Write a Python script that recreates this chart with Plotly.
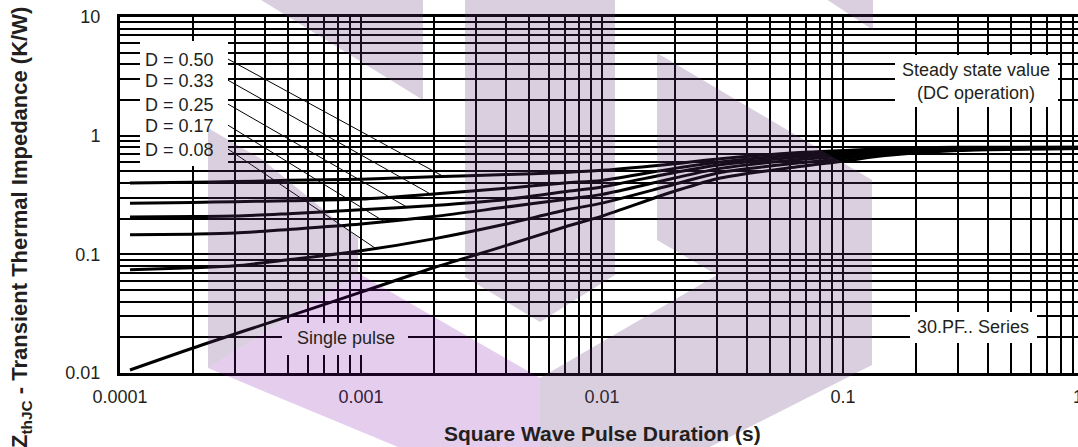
import numpy as np
import plotly.graph_objects as go

# ---------------- data ----------------
T_DUTY = [1.1e-4, 2e-4, 3e-4, 5e-4, 1e-3, 2e-3, 4e-3, 7e-3, 1e-2, 2e-2, 3.1e-2, 6.6e-2, 0.1, 0.15, 0.3, 1.0]
Z_D050 = [0.40, 0.405, 0.41, 0.42, 0.43, 0.45, 0.47, 0.49, 0.51, 0.58, 0.64, 0.72, 0.75, 0.78, 0.80, 0.80]
Z_D033 = [0.27, 0.274, 0.278, 0.283, 0.292, 0.322, 0.36, 0.40, 0.42, 0.53, 0.60, 0.69, 0.72, 0.77, 0.79, 0.80]
Z_D025 = [0.206, 0.208, 0.21, 0.22, 0.237, 0.258, 0.29, 0.337, 0.37, 0.49, 0.57, 0.66, 0.70, 0.75, 0.78, 0.79]
Z_D017 = [0.146, 0.148, 0.151, 0.162, 0.18, 0.208, 0.25, 0.29, 0.32, 0.44, 0.53, 0.63, 0.67, 0.73, 0.77, 0.79]
Z_D008 = [0.074, 0.077, 0.08, 0.09, 0.107, 0.135, 0.18, 0.235, 0.27, 0.39, 0.49, 0.59, 0.64, 0.71, 0.76, 0.78]
T_SINGLE = [1.1e-4, 2.2e-4, 5e-4, 1e-3, 2e-3, 3.5e-3, 7e-3, 1e-2, 2e-2, 3.1e-2, 6.6e-2, 0.1, 0.15, 0.3, 1.0]
Z_SINGLE = [0.0106, 0.0173, 0.030, 0.048, 0.077, 0.109, 0.17, 0.21, 0.34, 0.44, 0.55, 0.61, 0.68, 0.75, 0.78]

DUTY_LABELS = ["D = 0.50", "D = 0.33", "D = 0.25", "D = 0.17", "D = 0.08"]
DUTY_SERIES = [Z_D050, Z_D033, Z_D025, Z_D017, Z_D008]
LEADER_START_T = 2.8e-4
LEADER_START_Z = [4.43, 2.94, 1.85, 1.23, 0.773]
LEADER_END_T = [2.2e-3, 1.95e-3, 1.55e-3, 1.25e-3, 1.15e-3]

X_TICKS = [1e-4, 1e-3, 1e-2, 1e-1]
X_TICKTEXT = ["0.0001", "0.001", "0.01", "0.1"]
Y_TICKS = [0.01, 0.1, 1, 10]
Y_TICKTEXT = ["0.01", "0.1", "1", "10"]
MINOR_MULT = [2, 3, 4, 5, 6, 7, 8, 9]

X_TITLE = "<b>Square Wave Pulse Duration (s)</b>"
Y_TITLE = "<b>Z<sub>thJC</sub> - Transient Thermal Impedance (K/W)</b>"

# ---------------- layout geometry ----------------
W, H = 1078, 447
ML, MR, MT, MB = 120, 0, 17, 74
PW, PH = W - ML - MR, H - MT - MB
DEC_X = 241.0
X_RANGE = [-4, -4 + PW / DEC_X]
Y_RANGE = [-2, 1]
FONT = "Liberation Sans, Arial, Helvetica, sans-serif"
TXT = "#231f20"


def xp(px):
    return (px - ML) / PW


def yp(py):
    return (H - MB - py) / PH


def poly(points):
    return "M " + " L ".join(f"{xp(a):.5f},{yp(b):.5f}" for a, b in points) + " Z"


fig = go.Figure()

for z in DUTY_SERIES:
    fig.add_trace(go.Scatter(x=T_DUTY, y=z, mode="lines",
                             line=dict(color="black", width=3, shape="spline", smoothing=0.8),
                             showlegend=False, hoverinfo="skip"))
fig.add_trace(go.Scatter(x=T_SINGLE, y=Z_SINGLE, mode="lines",
                         line=dict(color="black", width=3, shape="spline", smoothing=0.8),
                         showlegend=False, hoverinfo="skip"))

for z0, t1, zs in zip(LEADER_START_Z, LEADER_END_T, DUTY_SERIES):
    z1 = 10 ** np.interp(np.log10(t1), np.log10(T_DUTY), np.log10(zs))
    fig.add_trace(go.Scatter(x=[LEADER_START_T, t1], y=[z0, z1], mode="lines",
                             line=dict(color="black", width=1),
                             showlegend=False, hoverinfo="skip"))

shapes = []
# white boxes behind labels (hide grid lines), drawn before the watermark
for (x0, y0, x1, y1) in [(140, 41, 228, 166), (895, 55, 1058, 107),
                         (282, 323, 408, 355), (910, 312, 1037, 343)]:
    shapes.append(dict(type="rect", xref="paper", yref="paper",
                       x0=xp(x0), x1=xp(x1), y0=yp(y1), y1=yp(y0),
                       fillcolor="white", line=dict(width=0), layer="above"))

GRAY = dict(fillcolor="rgb(95,55,120)", opacity=0.24)
PURP = dict(fillcolor="rgb(125,10,165)", opacity=0.2)
wm = [
    ([(253, -5), (423, -5), (423, 100)], GRAY),
    ([(820, -5), (873, -5), (873, 30)], GRAY),
    ([(465, -5), (615, -5), (615, 275), (540, 322), (465, 277)], GRAY),
    ([(208, 128), (263, 160), (358, 238), (358, 273), (208, 368)], GRAY),
    ([(208, 368), (358, 273), (540, 378), (540, 452), (410, 452)], PURP),
    ([(657, 53), (872, 180), (872, 365), (700, 452), (540, 452), (540, 378),
      (717, 275), (657, 240)], GRAY),
]
for pts, st in wm:
    shapes.append(dict(type="path", xref="paper", yref="paper", path=poly(pts),
                       fillcolor=st["fillcolor"], opacity=st["opacity"],
                       line=dict(width=0), layer="above"))

ann = []
for lab, z0 in zip(DUTY_LABELS, LEADER_START_Z):
    ann.append(dict(text=lab, xref="paper", x=xp(143), yref="y", y=np.log10(z0),
                    xanchor="left", yanchor="middle", showarrow=False, yshift=-1,
                    font=dict(size=18, color=TXT, family=FONT)))
ann.append(dict(text="Steady state value<br>(DC operation)", xref="paper", yref="paper",
                x=xp(976), y=yp(81), xanchor="center", yanchor="middle", showarrow=False,
                align="center", font=dict(size=18, color=TXT, family=FONT)))
ann.append(dict(text="Single pulse", xref="paper", yref="paper", x=xp(346), y=yp(338),
                xanchor="center", yanchor="middle", showarrow=False,
                font=dict(size=18, color=TXT, family=FONT)))
ann.append(dict(text="30.PF.. Series", xref="paper", yref="paper", x=xp(973), y=yp(327),
                xanchor="center", yanchor="middle", showarrow=False,
                font=dict(size=18, color=TXT, family=FONT)))
ann.append(dict(text="1", xref="paper", yref="paper", x=xp(1085), y=yp(397),
                xanchor="right", yanchor="middle", showarrow=False,
                font=dict(size=18, color=TXT, family=FONT)))
ann.append(dict(text=X_TITLE, xref="paper", yref="paper", x=xp(602), y=yp(433),
                xanchor="center", yanchor="middle", showarrow=False,
                font=dict(size=21, color=TXT, family=FONT)))
ann.append(dict(text=Y_TITLE, xref="paper", yref="paper", x=xp(21), y=yp(228),
                xanchor="center", yanchor="middle", showarrow=False, textangle=-90,
                font=dict(size=22, color=TXT, family=FONT)))

minor_x = [m * 10.0 ** e for e in range(-4, 0) for m in MINOR_MULT]
minor_y = [m * 10.0 ** e for e in range(-2, 1) for m in MINOR_MULT]

fig.update_layout(
    width=W, height=H, margin=dict(l=ML, r=MR, t=MT, b=MB, pad=0),
    paper_bgcolor="white", plot_bgcolor="white",
    font=dict(family=FONT, size=18, color=TXT),
    shapes=shapes, annotations=ann, showlegend=False,
    xaxis=dict(type="log", range=X_RANGE, tickvals=X_TICKS, ticktext=X_TICKTEXT,
               ticks="", ticklabelstandoff=5, showgrid=True, gridcolor="black", gridwidth=2,
               minor=dict(tickvals=minor_x, showgrid=True, gridcolor="black", gridwidth=2, ticks=""),
               showline=True, linecolor="black", linewidth=3, mirror=True, zeroline=False,
               tickfont=dict(size=18, color=TXT, family=FONT)),
    yaxis=dict(type="log", range=Y_RANGE, tickvals=Y_TICKS, ticktext=Y_TICKTEXT,
               ticks="", ticklabelstandoff=13, showgrid=True, gridcolor="black", gridwidth=2,
               minor=dict(tickvals=minor_y, showgrid=True, gridcolor="black", gridwidth=2, ticks=""),
               showline=True, linecolor="black", linewidth=3, mirror=False, zeroline=False,
               tickfont=dict(size=18, color=TXT, family=FONT)),
)

fig.write_html("out.html", config={"displayModeBar": False},
               post_script="document.body.style.margin='0';document.body.style.padding='0';"
                           "document.body.style.overflow='hidden';")
